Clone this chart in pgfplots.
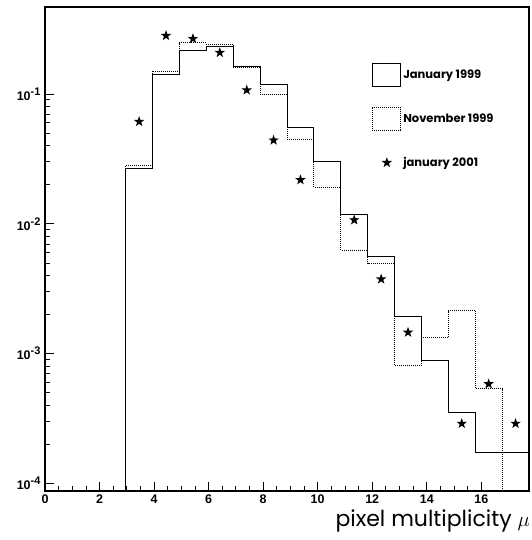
\documentclass[border=0pt]{standalone}
\usepackage{pgfplots}
\pgfplotsset{compat=1.18}
\usepackage{fontspec}
\setmainfont{Liberation Sans}
\newfontfamily\gothic{Poppins}

% filled five-pointed star
\pgfdeclareplotmark{fstar}{%
  \pgfpathmoveto{\pgfpointpolar{90}{\pgfplotmarksize}}%
  \pgfpathlineto{\pgfpointpolar{126}{0.4\pgfplotmarksize}}%
  \pgfpathlineto{\pgfpointpolar{162}{\pgfplotmarksize}}%
  \pgfpathlineto{\pgfpointpolar{198}{0.4\pgfplotmarksize}}%
  \pgfpathlineto{\pgfpointpolar{234}{\pgfplotmarksize}}%
  \pgfpathlineto{\pgfpointpolar{270}{0.4\pgfplotmarksize}}%
  \pgfpathlineto{\pgfpointpolar{306}{\pgfplotmarksize}}%
  \pgfpathlineto{\pgfpointpolar{342}{0.4\pgfplotmarksize}}%
  \pgfpathlineto{\pgfpointpolar{18}{\pgfplotmarksize}}%
  \pgfpathlineto{\pgfpointpolar{54}{0.4\pgfplotmarksize}}%
  \pgfpathclose\pgfusepathqfill}
\newcommand\pw[1]{10\raisebox{5pt}{\fontsize{11}{11}\selectfont -#1}}

\begin{document}
\begin{tikzpicture}
\begin{axis}[
    at={(0,0)}, anchor=south west,
    scale only axis, width=484pt, height=484pt,
    xmin=0, xmax=17.75,
    ymode=log, ymin=8.77e-5, ymax=0.467,
    axis line style={line width=1.5pt},
    tick pos=left, tick align=inside,
    major tick length=9pt, minor tick length=5pt,
    every tick/.style={black, line width=0.8pt},
    xtick={0,2,...,16}, minor x tick num=3,
    ytick={1e-4,1e-3,1e-2,1e-1},
    yticklabels={\pw{4},\pw{3},\pw{2},\pw{1}},
    yticklabel style={xshift=-1pt},
    /pgf/number format/assume math mode=true,
    tick label style={font=\bfseries\fontsize{12.5}{12.5}\selectfont},
    xlabel={\gothic\fontsize{22}{22}\selectfont pixel multiplicity $\mu$},
    xlabel style={at={(rel axis cs:1,0)}, anchor=north east, yshift=-19pt, xshift=1pt, inner sep=0pt},
    legend style={draw=none, fill=none, at={(axis description cs:0.676,0.884)}, anchor=north west,
      inner sep=0pt, row sep=20pt, legend cell align=left,
      font=\gothic\bfseries\fontsize{11.5}{12}\selectfont,
      /tikz/every even column/.append style={column sep=8pt}},
]
\addplot[const plot, line width=0.9pt,
  legend image code/.code={\draw[line width=0.9pt] (0pt,-11.5pt) rectangle (28pt,11.5pt);}]
  coordinates {
  (2.96,1e-6) (2.96,0.0265) (3.946,0.1406) (4.932,0.218) (5.918,0.233)
  (6.904,0.162) (7.89,0.119) (8.876,0.0554) (9.862,0.030) (10.848,0.0118)
  (11.834,0.0056) (12.82,0.00194) (13.806,0.000883) (14.792,0.00035)
  (15.778,0.000175) (16.764,0.000175) (17.75,0.000175)
};
\addlegendentry{January 1999}
\addplot[const plot, line width=0.9pt, dash pattern=on 1pt off 1pt,
  legend image code/.code={\draw[line width=0.9pt, dash pattern=on 1pt off 1pt] (0pt,-11.5pt) rectangle (28pt,11.5pt);}]
  coordinates {
  (2.96,1e-6) (2.96,0.0279) (3.946,0.150) (4.932,0.247) (5.918,0.241)
  (6.904,0.160) (7.89,0.0988) (8.876,0.0449) (9.862,0.0191) (10.848,0.00624)
  (11.834,0.00499) (12.82,0.000813) (13.806,0.00133) (14.792,0.00215)
  (15.778,0.000538) (16.764,1e-6)
};
\addlegendentry{November 1999}
\addplot[only marks, mark=fstar, mark size=5.5pt, black,
  legend image code/.code={\path[draw=none, fill=none] (0pt,-11.5pt) rectangle (28pt,11.5pt);
    \fill[black] plot[mark=fstar, mark size=5.5pt] coordinates {(14pt,0pt)};}]
  coordinates {
  (3.453,0.0612) (4.439,0.281) (5.425,0.266) (6.411,0.208) (7.397,0.107)
  (8.383,0.044) (9.369,0.0218) (11.341,0.0107) (12.327,0.00375)
  (13.313,0.00146) (15.285,0.00029) (16.271,0.000585) (17.257,0.00029)
};
\addlegendentry{january 2001}
\end{axis}
\pgfresetboundingbox
\path (-45pt,-49pt) rectangle (486pt,491pt);
\end{tikzpicture}
\end{document}
